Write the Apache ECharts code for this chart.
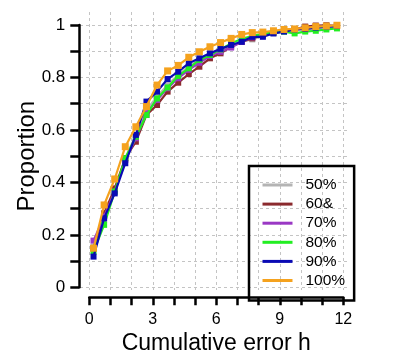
<!DOCTYPE html>
<html>
<head>
<meta charset="utf-8">
<script src="https://cdn.jsdelivr.net/npm/echarts@6/dist/echarts.min.js"></script>
<style>
  html, body { margin: 0; padding: 0; background: #fff; }
  #chart { width: 417px; height: 362px; }
</style>
</head>
<body>
<div id="chart"></div>
<script>
const errorH = [0.2, 0.7, 1.2, 1.7, 2.2, 2.7, 3.2, 3.7, 4.2, 4.7, 5.2, 5.7,
                6.2, 6.7, 7.2, 7.7, 8.2, 8.7, 9.2, 9.7, 10.2, 10.7, 11.2, 11.7]

const seriesNames  = ['50%', '60&', '70%', '80%', '90%', '100%']
const seriesColors = ['#b4b4b4', '#8b2a2e', '#9a38c4', '#22ee22', '#0a0ab4', '#f5a21e']

const p50  = [0.155, 0.257, 0.371, 0.492, 0.581, 0.676, 0.727, 0.771, 0.810, 0.841, 0.867, 0.886,
              0.905, 0.920, 0.936, 0.945, 0.958, 0.968, 0.975, 0.981, 0.983, 0.987, 0.991, 0.994]
const p60  = [0.149, 0.282, 0.377, 0.492, 0.555, 0.657, 0.695, 0.746, 0.780, 0.813, 0.841, 0.873,
              0.892, 0.917, 0.936, 0.949, 0.962, 0.972, 0.978, 0.983, 0.994, 0.998, 0.999, 0.997]
const p70  = [0.178, 0.270, 0.365, 0.485, 0.568, 0.663, 0.714, 0.759, 0.797, 0.829, 0.856, 0.882,
              0.898, 0.914, 0.936, 0.953, 0.962, 0.972, 0.978, 0.983, 0.987, 0.991, 0.994, 0.996]
const p80  = [0.136, 0.238, 0.365, 0.492, 0.574, 0.657, 0.720, 0.762, 0.806, 0.835, 0.867, 0.886,
              0.907, 0.930, 0.947, 0.958, 0.966, 0.971, 0.975, 0.968, 0.975, 0.978, 0.983, 0.987]
const p90  = [0.117, 0.263, 0.358, 0.473, 0.581, 0.708, 0.746, 0.794, 0.822, 0.854, 0.873, 0.892,
              0.909, 0.924, 0.936, 0.955, 0.955, 0.968, 0.975, 0.983, 0.985, 0.990, 0.994, 0.996]
const p100 = [0.149, 0.314, 0.413, 0.536, 0.612, 0.689, 0.771, 0.825, 0.846, 0.877, 0.898, 0.917,
              0.933, 0.949, 0.964, 0.971, 0.973, 0.978, 0.983, 0.985, 0.989, 0.994, 0.996, 0.999]

const seriesValues = [p50, p60, p70, p80, p90, p100]

const chart = echarts.init(document.getElementById('chart'), null, { renderer: 'canvas' })

const dashed = { show: true, lineStyle: { color: '#c4c4c4', width: 1, type: [3, 3] } }
const hidden = { axisLine: { show: false }, axisTick: { show: false }, axisLabel: { show: false } }
const FONT = 'Liberation Sans, Arial, sans-serif'

const option = {
  animation: false,
  backgroundColor: '#fff',
  textStyle: { fontFamily: FONT, color: '#000' },
  grid: [
    // horizontal grid lines
    { left: 80, top: 25, width: 270, height: 262.3 },
    // vertical grid lines
    { left: 89.3, top: 12, width: 254, height: 278 },
    // data + axes
    { left: 89.3, top: 25, width: 254, height: 262.3 },
  ],
  xAxis: [
    { gridIndex: 0, type: 'value', min: 0, max: 1, splitLine: { show: false }, ...hidden },
    { gridIndex: 1, type: 'value', min: 0, max: 12, interval: 1, splitLine: dashed, ...hidden },
    {
      gridIndex: 2, type: 'value', min: 0, max: 12, interval: 1, offset: 10,
      splitLine: { show: false },
      axisLine: { show: true, onZero: false, lineStyle: { color: '#000', width: 2.5 } },
      axisTick: { show: true, inside: false, length: 8, lineStyle: { color: '#000', width: 2.5 } },
      axisLabel: {
        margin: 14, fontSize: 16, color: '#000', fontFamily: FONT,
        formatter: v => (v % 3 === 0 ? String(v) : '')
      },
      name: 'Cumulative error h', nameLocation: 'middle', nameGap: 34,
      nameTextStyle: { fontSize: 23, color: '#000', fontFamily: FONT },
    },
  ],
  yAxis: [
    { gridIndex: 0, type: 'value', min: 0, max: 1, interval: 0.1, splitLine: dashed, ...hidden },
    { gridIndex: 1, type: 'value', min: 0, max: 1, splitLine: { show: false }, ...hidden },
    {
      gridIndex: 2, type: 'value', min: 0, max: 1, interval: 0.1, offset: 10,
      splitLine: { show: false },
      axisLine: { show: true, onZero: false, lineStyle: { color: '#000', width: 2.5 } },
      axisTick: { show: true, inside: false, length: 9, lineStyle: { color: '#000', width: 2.5 } },
      axisLabel: {
        margin: 14, fontSize: 17, color: '#000', fontFamily: FONT,
        formatter: v => (Math.round(v * 10) % 2 === 0 ? String(Math.round(v * 10) / 10) : '')
      },
      name: 'Proportion', nameLocation: 'middle', nameGap: 40, nameMoveOverlap: false,
      nameTextStyle: { fontSize: 24, color: '#000', fontFamily: FONT },
    },
  ],
  legend: {
    data: seriesNames,
    orient: 'vertical',
    left: 249, top: 166,
    padding: [11, 9, 12, 12],
    borderColor: '#000', borderWidth: 2.5,
    itemWidth: 30, itemHeight: 14, itemGap: 3.1,
    itemStyle: { opacity: 0 },
    lineStyle: { width: 3 },
    textStyle: { fontSize: 15.5, color: '#000', fontFamily: FONT, padding: [0, 0, 0, 8] },
  },
  series: seriesNames.map((name, i) => ({
    name,
    type: 'line',
    xAxisIndex: 2, yAxisIndex: 2,
    data: errorH.map((x, j) => [x, seriesValues[i][j]]),
    symbol: 'rect',
    symbolSize: name === '100%' ? 7 : 6,
    color: seriesColors[i],
    lineStyle: { width: 2.2, color: seriesColors[i] },
    itemStyle: { color: seriesColors[i] },
    z: 2 + i,
  })),
}

chart.setOption(option)
</script>
</body>
</html>
